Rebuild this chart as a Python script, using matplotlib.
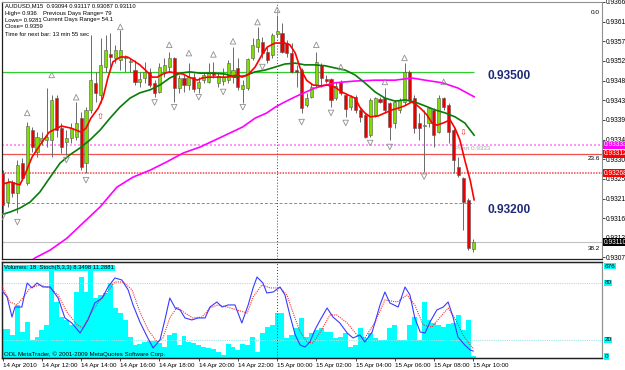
import matplotlib
matplotlib.use("Agg")
import matplotlib.pyplot as plt
import numpy as np

plt.rcParams['font.family'] = ['Liberation Sans', 'DejaVu Sans']

# AUDUSD M15, 14 Apr 10:00 .. 15 Apr 10:00 (bar index 0..96)
opens = [0.93268, 0.93202, 0.93248, 0.93223, 0.93291, 0.93246, 0.93367, 0.93316, 0.93342, 0.93344,
         0.93344, 0.93440, 0.93371, 0.93340, 0.93349, 0.93351, 0.93394, 0.93291, 0.93413, 0.93475,
         0.93447, 0.93511, 0.93541, 0.93532, 0.93527, 0.93532, 0.93523, 0.93504, 0.93477, 0.93486,
         0.93500, 0.93475, 0.93454, 0.93500, 0.93511, 0.93532, 0.93463, 0.93486, 0.93470, 0.93488,
         0.93463, 0.93481, 0.93477, 0.93500, 0.93475, 0.93479, 0.93481, 0.93488, 0.93509, 0.93461,
         0.93463, 0.93532, 0.93557, 0.93568, 0.93546, 0.93539, 0.93587, 0.93589, 0.93566, 0.93543,
         0.93504, 0.93504, 0.93424, 0.93442, 0.93470, 0.93516, 0.93484, 0.93484, 0.93440, 0.93477,
         0.93447, 0.93420, 0.93443, 0.93413, 0.93401, 0.93355, 0.93401, 0.93438, 0.93440, 0.93429,
         0.93383, 0.93413, 0.93431, 0.93500, 0.93440, 0.93383, 0.93376, 0.93383, 0.93413, 0.93362,
         0.93440, 0.93424, 0.93367, 0.93282, 0.93257, 0.93207, 0.93094]
highs = [0.93275, 0.93257, 0.93252, 0.93298, 0.93303, 0.93385, 0.93374, 0.93362, 0.93362, 0.93463,
         0.93447, 0.93447, 0.93383, 0.93367, 0.93383, 0.93431, 0.93408, 0.93419, 0.93584, 0.93500,
         0.93578, 0.93584, 0.93589, 0.93562, 0.93596, 0.93539, 0.93532, 0.93527, 0.93500, 0.93523,
         0.93509, 0.93481, 0.93520, 0.93532, 0.93546, 0.93534, 0.93493, 0.93493, 0.93520, 0.93497,
         0.93488, 0.93500, 0.93520, 0.93523, 0.93500, 0.93509, 0.93527, 0.93557, 0.93532, 0.93481,
         0.93532, 0.93578, 0.93603, 0.93580, 0.93557, 0.93589, 0.93630, 0.93612, 0.93573, 0.93566,
         0.93516, 0.93509, 0.93452, 0.93475, 0.93546, 0.93520, 0.93493, 0.93486, 0.93477, 0.93481,
         0.93452, 0.93447, 0.93447, 0.93419, 0.93406, 0.93440, 0.93443, 0.93443, 0.93463, 0.93431,
         0.93436, 0.93440, 0.93520, 0.93504, 0.93447, 0.93406, 0.93413, 0.93419, 0.93417, 0.93447,
         0.93443, 0.93429, 0.93371, 0.93305, 0.93259, 0.93211, 0.93117]
lows = [0.93177, 0.93191, 0.93213, 0.93177, 0.93252, 0.93241, 0.93316, 0.93305, 0.93333, 0.93328,
        0.93305, 0.93351, 0.93314, 0.93310, 0.93337, 0.93344, 0.93275, 0.93268, 0.93406, 0.93431,
        0.93429, 0.93500, 0.93511, 0.93520, 0.93504, 0.93500, 0.93500, 0.93470, 0.93465, 0.93475,
        0.93465, 0.93442, 0.93452, 0.93488, 0.93500, 0.93431, 0.93452, 0.93454, 0.93459, 0.93454,
        0.93452, 0.93475, 0.93475, 0.93486, 0.93465, 0.93470, 0.93475, 0.93475, 0.93459, 0.93429,
        0.93459, 0.93527, 0.93546, 0.93532, 0.93520, 0.93532, 0.93580, 0.93543, 0.93534, 0.93497,
        0.93465, 0.93406, 0.93419, 0.93440, 0.93463, 0.93465, 0.93475, 0.93419, 0.93436, 0.93447,
        0.93397, 0.93413, 0.93406, 0.93385, 0.93349, 0.93351, 0.93397, 0.93429, 0.93406, 0.93344,
        0.93371, 0.93406, 0.93424, 0.93431, 0.93360, 0.93344, 0.93271, 0.93374, 0.93328, 0.93360,
        0.93413, 0.93337, 0.93268, 0.93259, 0.93138, 0.93092, 0.93087]
closes = [0.93195, 0.93248, 0.93223, 0.93287, 0.93257, 0.93376, 0.93328, 0.93351, 0.93349, 0.93351,
          0.93436, 0.93367, 0.93328, 0.93349, 0.93371, 0.93383, 0.93282, 0.93413, 0.93481, 0.93452,
          0.93516, 0.93550, 0.93534, 0.93550, 0.93550, 0.93534, 0.93525, 0.93477, 0.93484, 0.93500,
          0.93470, 0.93452, 0.93511, 0.93516, 0.93532, 0.93463, 0.93486, 0.93470, 0.93488, 0.93461,
          0.93477, 0.93493, 0.93500, 0.93493, 0.93491, 0.93488, 0.93520, 0.93504, 0.93465, 0.93470,
          0.93529, 0.93562, 0.93575, 0.93543, 0.93527, 0.93584, 0.93594, 0.93546, 0.93543, 0.93500,
          0.93500, 0.93417, 0.93440, 0.93465, 0.93523, 0.93486, 0.93479, 0.93436, 0.93468, 0.93452,
          0.93415, 0.93443, 0.93413, 0.93397, 0.93351, 0.93436, 0.93440, 0.93431, 0.93413, 0.93374,
          0.93431, 0.93436, 0.93500, 0.93436, 0.93371, 0.93371, 0.93376, 0.93417, 0.93355, 0.93440,
          0.93419, 0.93362, 0.93298, 0.93264, 0.93202, 0.93097, 0.93110]

# moving averages (bar position, price)
red_bar = [0, 1.5, 3.5, 4.5, 6, 8, 9.5, 12, 14, 16, 17, 18, 19.5, 20.5, 21.5, 22.5, 24, 25.5, 26.5, 28,
           29.5, 30.5, 31.5, 32.7, 34, 35.5, 36.8, 38, 39.7, 40.7, 41.9, 44, 45.8, 48, 48.8, 50, 51.5,
           52.9, 54, 55.6, 57.6, 58.6, 59.7, 60.7, 62, 63.3, 64.8, 66.2, 67.8, 69.2, 70.5, 71.9, 72.9,
           73.9, 75, 76.6, 78, 79.5, 80.7, 82, 83.5, 84.5, 85.6, 86.6, 87.6, 88.6, 89.9, 91.3, 92.3,
           93.3, 94.3, 95.4, 96.2]
red_ma = [0.93243, 0.93248, 0.93241, 0.93264, 0.93305, 0.93339, 0.93362, 0.93376, 0.93371, 0.93362,
          0.93371, 0.93394, 0.93417, 0.93442, 0.93488, 0.93523, 0.93534, 0.93534, 0.93527, 0.93516,
          0.93500, 0.93488, 0.93488, 0.93495, 0.93500, 0.93497, 0.93495, 0.93488, 0.93481, 0.93486,
          0.93488, 0.93488, 0.93488, 0.93493, 0.93488, 0.93493, 0.93511, 0.93539, 0.93557, 0.93566,
          0.93566, 0.93562, 0.93543, 0.93509, 0.93481, 0.93470, 0.93468, 0.93470, 0.93465, 0.93454,
          0.93447, 0.93440, 0.93419, 0.93406, 0.93397, 0.93399, 0.93406, 0.93413, 0.93417, 0.93422,
          0.93431, 0.93424, 0.93413, 0.93401, 0.93383, 0.93378, 0.93383, 0.93390, 0.93371, 0.93344,
          0.93298, 0.93252, 0.93207]
green_bar = [-0.6, 1.5, 3.5, 5.6, 7.6, 9.7, 11.7, 13.7, 15.8, 17.8, 19.9, 21.9, 23.9, 26.0, 28.0, 30.1,
             32.1, 34.1, 36.2, 38.2, 40.3, 42.9, 45.4, 47.4, 49.4, 51.5, 53.5, 55.6, 57.6, 59.7, 61.7,
             63.7, 65.8, 67.8, 69.9, 71.9, 73.9, 76.0, 78.0, 80.1, 82.1, 84.1, 86.2, 88.2, 90.3, 92.3,
             94.3, 96.2]
green_ma = [0.93172, 0.93179, 0.93188, 0.93202, 0.93225, 0.93259, 0.93291, 0.93310, 0.93326, 0.93344,
            0.93367, 0.93394, 0.93419, 0.93440, 0.93452, 0.93459, 0.93470, 0.93486, 0.93497, 0.93500,
            0.93497, 0.93497, 0.93495, 0.93488, 0.93491, 0.93500, 0.93504, 0.93511, 0.93518, 0.93520,
            0.93516, 0.93516, 0.93514, 0.93509, 0.93504, 0.93493, 0.93475, 0.93454, 0.93440, 0.93433,
            0.93436, 0.93431, 0.93422, 0.93413, 0.93406, 0.93397, 0.93383, 0.93355]
mag_bar = [5.6, 6.6, 9.7, 13.1, 16.4, 19.9, 23.3, 26.6, 30.1, 33.5, 36.8, 40.3, 44.3, 49.0, 51.5, 53.9,
           55.6, 57.2, 59.7, 63.7, 67.8, 71.9, 76.0, 80.1, 83.5, 86.2, 89.7, 92.9, 96.2]
mag_ma = [0.93065, 0.93074, 0.93092, 0.93119, 0.93154, 0.93191, 0.93236, 0.93259, 0.93275, 0.93294,
          0.93314, 0.93328, 0.93349, 0.93374, 0.93394, 0.93406, 0.93419, 0.93429, 0.93443, 0.93463,
          0.93475, 0.93479, 0.93481, 0.93481, 0.93486, 0.93481, 0.93475, 0.93463, 0.93443]

# fractals
frac_up_bar = [5, 10, 15, 24, 34, 38, 43, 47, 52, 56, 64, 69, 78, 82, 90]
frac_up = [0.93406, 0.93493, 0.93442, 0.93603, 0.93562, 0.93543, 0.93540, 0.93570, 0.93614, 0.93642,
           0.93562, 0.93511, 0.93477, 0.93532, 0.93477]
frac_dn_bar = [0, 3, 13, 17, 31, 35, 40, 45, 49, 53, 61, 67, 70, 75, 79, 86]
frac_dn = [0.93168, 0.93156, 0.93298, 0.93252, 0.93430, 0.93419, 0.93442, 0.93454, 0.93419, 0.93511,
           0.93385, 0.93406, 0.93383, 0.93337, 0.93328, 0.93260]

volumes = [213, 213, 169, 390, 191, 265, 132, 154, 206, 243, 647, 412, 301, 279, 243, 485, 595, 485,
           676, 441, 463, 478, 551, 368, 331, 279, 154, 96, 103, 118, 125, 125, 110, 81, 169, 184, 96,
           162, 118, 110, 96, 81, 74, 66, 44, 22, 103, 81, 59, 103, 96, 154, 44, 184, 228, 243, 331,
           331, 147, 169, 221, 294, 154, 184, 206, 221, 191, 191, 147, 154, 184, 81, 96, 221, 147, 184,
           147, 132, 132, 221, 243, 132, 132, 243, 301, 132, 412, 279, 257, 243, 228, 250, 257, 316,
           206, 279, 18]

st_bar = [-0.6, 0.9, 1.9, 2.5, 3.9, 5.0, 6.0, 7.0, 8.2, 9.7, 11.3, 12.7, 14.1, 15.8, 17.4, 18.8, 20.3,
          21.5, 22.9, 24.3, 25.6, 26.6, 28.0, 29.5, 30.7, 32.1, 33.1, 34.1, 35.2, 36.2, 37.2, 38.6,
          39.9, 41.3, 42.3, 43.7, 44.8, 46.0, 47.4, 48.8, 50.1, 51.1, 51.9, 53.1, 53.9, 55.2, 56.6,
          57.6, 58.6, 59.7, 60.7, 61.7, 62.7, 63.7, 64.8, 66.2, 67.4, 68.8, 70.3, 71.5, 72.9, 73.9,
          75.4, 77.0, 78.0, 79.0, 80.7, 82.1, 83.1, 84.1, 85.2, 86.2, 87.2, 88.6, 89.9, 90.9, 91.9,
          92.9, 94.3, 95.4, 96.0]
st_main = [74.8, 65.3, 44.2, 54.7, 54.7, 80.0, 74.8, 80.0, 75.8, 75.8, 64.2, 43.2, 37.9, 27.4, 41.1,
           59.0, 64.2, 75.8, 85.3, 83.2, 72.7, 56.9, 39.0, 23.2, 11.6, 20.0, 41.1, 64.2, 53.7, 51.6,
           43.2, 41.1, 43.2, 43.2, 54.7, 60.0, 54.7, 56.9, 56.9, 37.9, 56.9, 74.8, 86.3, 80.0, 69.5,
           70.5, 75.8, 67.4, 46.3, 25.3, 14.7, 12.6, 17.9, 30.5, 41.1, 53.7, 44.2, 37.9, 27.4, 22.1,
           25.3, 17.9, 28.4, 56.9, 70.5, 59.0, 54.7, 75.8, 67.4, 43.2, 28.4, 27.4, 39.0, 51.6, 54.7,
           60.0, 44.2, 23.2, 14.7, 9.5, 8.35]
sig_bar = [-0.6, 1.5, 2.9, 4.1, 5.6, 7.6, 9.7, 11.3, 13.1, 15.2, 16.4, 17.8, 19.4, 21.3, 22.9, 24.6,
           26.4, 28.0, 29.7, 31.5, 32.7, 34.1, 35.6, 37.2, 38.8, 40.7, 42.3, 43.9, 45.8, 47.8, 49.9,
           51.1, 52.9, 54.6, 56.6, 58.0, 59.2, 60.7, 62.1, 63.3, 64.8, 66.8, 68.2, 70.3, 72.3, 73.9,
           76.0, 78.0, 80.5, 82.5, 84.1, 85.8, 87.6, 89.3, 90.9, 92.7, 93.9, 95.4, 96.0]
st_signal = [81.1, 60.0, 56.9, 64.2, 74.8, 77.9, 74.8, 67.4, 49.5, 35.8, 32.6, 46.3, 59.0, 70.5, 81.1,
             81.1, 72.7, 49.5, 30.5, 17.9, 22.1, 43.2, 54.7, 48.4, 43.2, 44.2, 53.7, 56.9, 54.7, 51.6,
             48.4, 65.3, 77.9, 74.8, 74.8, 67.4, 49.5, 28.4, 17.9, 16.8, 28.4, 46.3, 46.3, 37.9, 25.3,
             22.1, 39.0, 62.1, 60.0, 67.4, 56.9, 35.8, 33.7, 44.2, 53.7, 39.0, 25.3, 14.7, 11.29]

price_ticks = [0.93660, 0.93615, 0.93570, 0.93525, 0.93480, 0.93435, 0.93390, 0.93345, 0.93300,
               0.93255, 0.93210, 0.93165, 0.93120, 0.93075]
date_bars = [0, 8, 16, 24, 32, 40, 48, 56, 64, 72, 80, 88, 96]
date_labels = ['14 Apr 2010', '14 Apr 12:00', '14 Apr 14:00', '14 Apr 16:00', '14 Apr 18:00',
               '14 Apr 20:00', '14 Apr 22:00', '15 Apr 00:00', '15 Apr 02:00', '15 Apr 04:00',
               '15 Apr 06:00', '15 Apr 08:00', '15 Apr 10:00']

W, H = 625, 370
fig = plt.figure(figsize=(6.25, 3.7), dpi=100)

ax = fig.add_axes([2 / W, 1 - 259 / H, 600 / W, 257 / H])
axv = fig.add_axes([2 / W, 1 - 358 / H, 600 / W, 96 / H])
axs = axv.twinx()
xlim = (-0.14, 122.3)

# ---- main price panel ----
bars = np.arange(len(opens))
o = np.array(opens)
c = np.array(closes)
bull = c >= o
ax.vlines(bars, lows, highs, color='#6a6a6a', lw=0.7, zorder=3)
body_h = np.maximum(np.abs(c - o), 0.000012)
ax.bar(bars, body_h, bottom=np.minimum(o, c), width=0.62,
       color=np.where(bull, '#7fdd00', '#e80000'), edgecolor='#5a5a5a', linewidth=0.4, zorder=4)

ax.plot(mag_bar, mag_ma, color='#ff00ff', lw=1.2, zorder=5)
ax.plot(green_bar, green_ma, color='#0a7a0a', lw=1.2, zorder=5)
ax.plot(red_bar, red_ma, color='#ff0000', lw=1.2, zorder=6)

ax.scatter(frac_up_bar, frac_up, marker='^', s=16, facecolors='none', edgecolors='#909090',
           linewidths=0.6, zorder=6)
ax.scatter(frac_dn_bar, frac_dn, marker='v', s=16, facecolors='none', edgecolors='#909090',
           linewidths=0.6, zorder=6)
ax.text(19.9, 0.93397, '\u21e7', color='#ff2020', fontsize=6, ha='center', va='center',
        family='DejaVu Sans', zorder=7)
ax.text(93.9, 0.93360, '\u21e9', color='#ff2020', fontsize=6, ha='center', va='center',
        family='DejaVu Sans', zorder=7)

ax.hlines(0.93500, xlim[0], 96.2, color='#2ecc2e', lw=0.9, zorder=2)
ax.hlines(0.93200, xlim[0], 96.2, color='#2ecc2e', lw=0.7, linestyles=(0, (3, 2)), zorder=2)
ax.axhline(0.93333, color='#ff80ff', lw=1.2, ls=(0, (1.2, 1.2)), zorder=2)
ax.axhline(0.93312, color='#f05050', lw=0.9, zorder=2)
ax.axhline(0.93268, color='#f04848', lw=1.1, ls=(0, (1, 0.8)), zorder=2)
ax.axhline(0.93110, color='#c0c0c0', lw=0.8, zorder=2)
ax.axvline(56, color='#404040', lw=0.7, ls=(0, (1, 2)), zorder=2)

ax.text(99, 0.93490, '0.93500', color='#1e2a78', fontsize=8.6, fontweight='bold', va='center')
ax.text(99, 0.93184, '0.93200', color='#1e2a78', fontsize=8.6, fontweight='bold', va='center')
ax.text(92.3, 0.93325, 'Pivot 0.9333', color='#a8a8a8', fontsize=4.6, va='center')

ax.set_xlim(*xlim)
ax.set_ylim(0.930715, 0.93660)
ax.set_xticks([])
ax.yaxis.tick_right()
ax.set_yticks(price_ticks)
ax.set_yticklabels(['%.5f' % p for p in price_ticks])
ax.tick_params(axis='y', labelsize=4.8, length=2, pad=1, colors='#000000', width=0.5)
for side in ['left', 'bottom']:
    ax.spines[side].set_color('#202020')
    ax.spines[side].set_linewidth(0.9)
ax.spines['right'].set_color('#909090')
ax.spines['top'].set_color('#909090')
ax.spines['top'].set_linestyle((0, (1, 1)))

tr = ax.get_yaxis_transform()
for lvl, col in [(0.93333, '#ff00ff'), (0.93312, '#ff0000'), (0.93268, '#ff0000'), (0.93110, '#000000')]:
    ax.text(1.003, lvl, '%.5f' % lvl, transform=tr, color='white', fontsize=4.8, va='center', ha='left',
            clip_on=False, zorder=10, bbox=dict(boxstyle='square,pad=0.12', fc=col, ec='none'))

# fib labels
fig.text(600 / W, 1 - 12 / H, '0.0', fontsize=4.6, ha='right', va='center')
fig.text(600 / W, 1 - 158 / H, '23.6', fontsize=4.6, ha='right', va='center')
fig.text(600 / W, 1 - 248 / H, '38.2', fontsize=4.6, ha='right', va='center')

info = [('AUDUSD,M15  0.93094 0.93117 0.93087 0.93110', 5, 6),
        ('High= 0.936', 5, 13), ('Previous Days Range= 79', 43, 13),
        ('Lows= 0.9281', 5, 20), ('Current Days Range= 54.1', 43, 20),
        ('Close= 0.9359', 5, 27),
        ('Time for next bar: 13 min 55 sec', 5, 34)]
for s, x, y in info:
    fig.text(x / W, 1 - y / H, s, fontsize=4.2, va='center', ha='left')

# ---- volume + stochastic panel ----
axv.bar(bars, volumes, width=1.0, color='#00ffff', zorder=1)
axv.set_xlim(*xlim)
axv.set_ylim(0, 706)
axv.set_yticks([])
axs.plot(sig_bar, st_signal, color='#ff3030', lw=0.8, ls=(0, (1, 1)), zorder=3)
axs.plot(st_bar, st_main, color='#3a3aff', lw=0.8, zorder=4)
axs.axhline(80, color='#a0e6e6', lw=0.8, ls=(0, (1, 1)))
axs.axhline(20, color='#a0e6e6', lw=0.8, ls=(0, (1, 1)))
axs.axvline(56, color='#404040', lw=0.7, ls=(0, (1, 2)))
axs.set_ylim(1.05, 102.1)
axs.set_yticks([])
axv.set_xticks(date_bars)
axv.set_xticklabels(date_labels, ha='left')
axv.tick_params(axis='x', labelsize=4.5, length=2, pad=1.5, width=0.5)
for a in (axv, axs):
    for side in ['left', 'bottom', 'top']:
        a.spines[side].set_color('#202020')
        a.spines[side].set_linewidth(0.9)
    a.spines['right'].set_color('#909090')

trv = axv.get_yaxis_transform()
for val, s in [(676, '676'), (12, '0')]:
    axv.text(1.004, val, s, transform=trv, fontsize=4.6, va='center', ha='left', clip_on=False,
             bbox=dict(boxstyle='square,pad=0.1', fc='#00ffff', ec='none'))
trs = axs.get_yaxis_transform()
for val in [80, 20]:
    axs.text(1.004, val, str(val), transform=trs, fontsize=4.6, va='center', ha='left', clip_on=False,
             bbox=dict(boxstyle='square,pad=0.1', fc='#00ffff', ec='none'))

fig.text(4 / W, 1 - 268 / H, 'Volumes: 18  Stoch(8,3,3) 8.3498 11.2881', fontsize=4.2, va='center',
         ha='left', bbox=dict(boxstyle='square,pad=0.15', fc='#00ffff', ec='none'))
fig.text(4 / W, 1 - 354 / H, 'ODL MetaTrader, \u00a9 2001-2009 MetaQuotes Software Corp.', fontsize=4.4,
         va='center', ha='left')

fig.savefig('out.png', dpi=100, facecolor='white')
